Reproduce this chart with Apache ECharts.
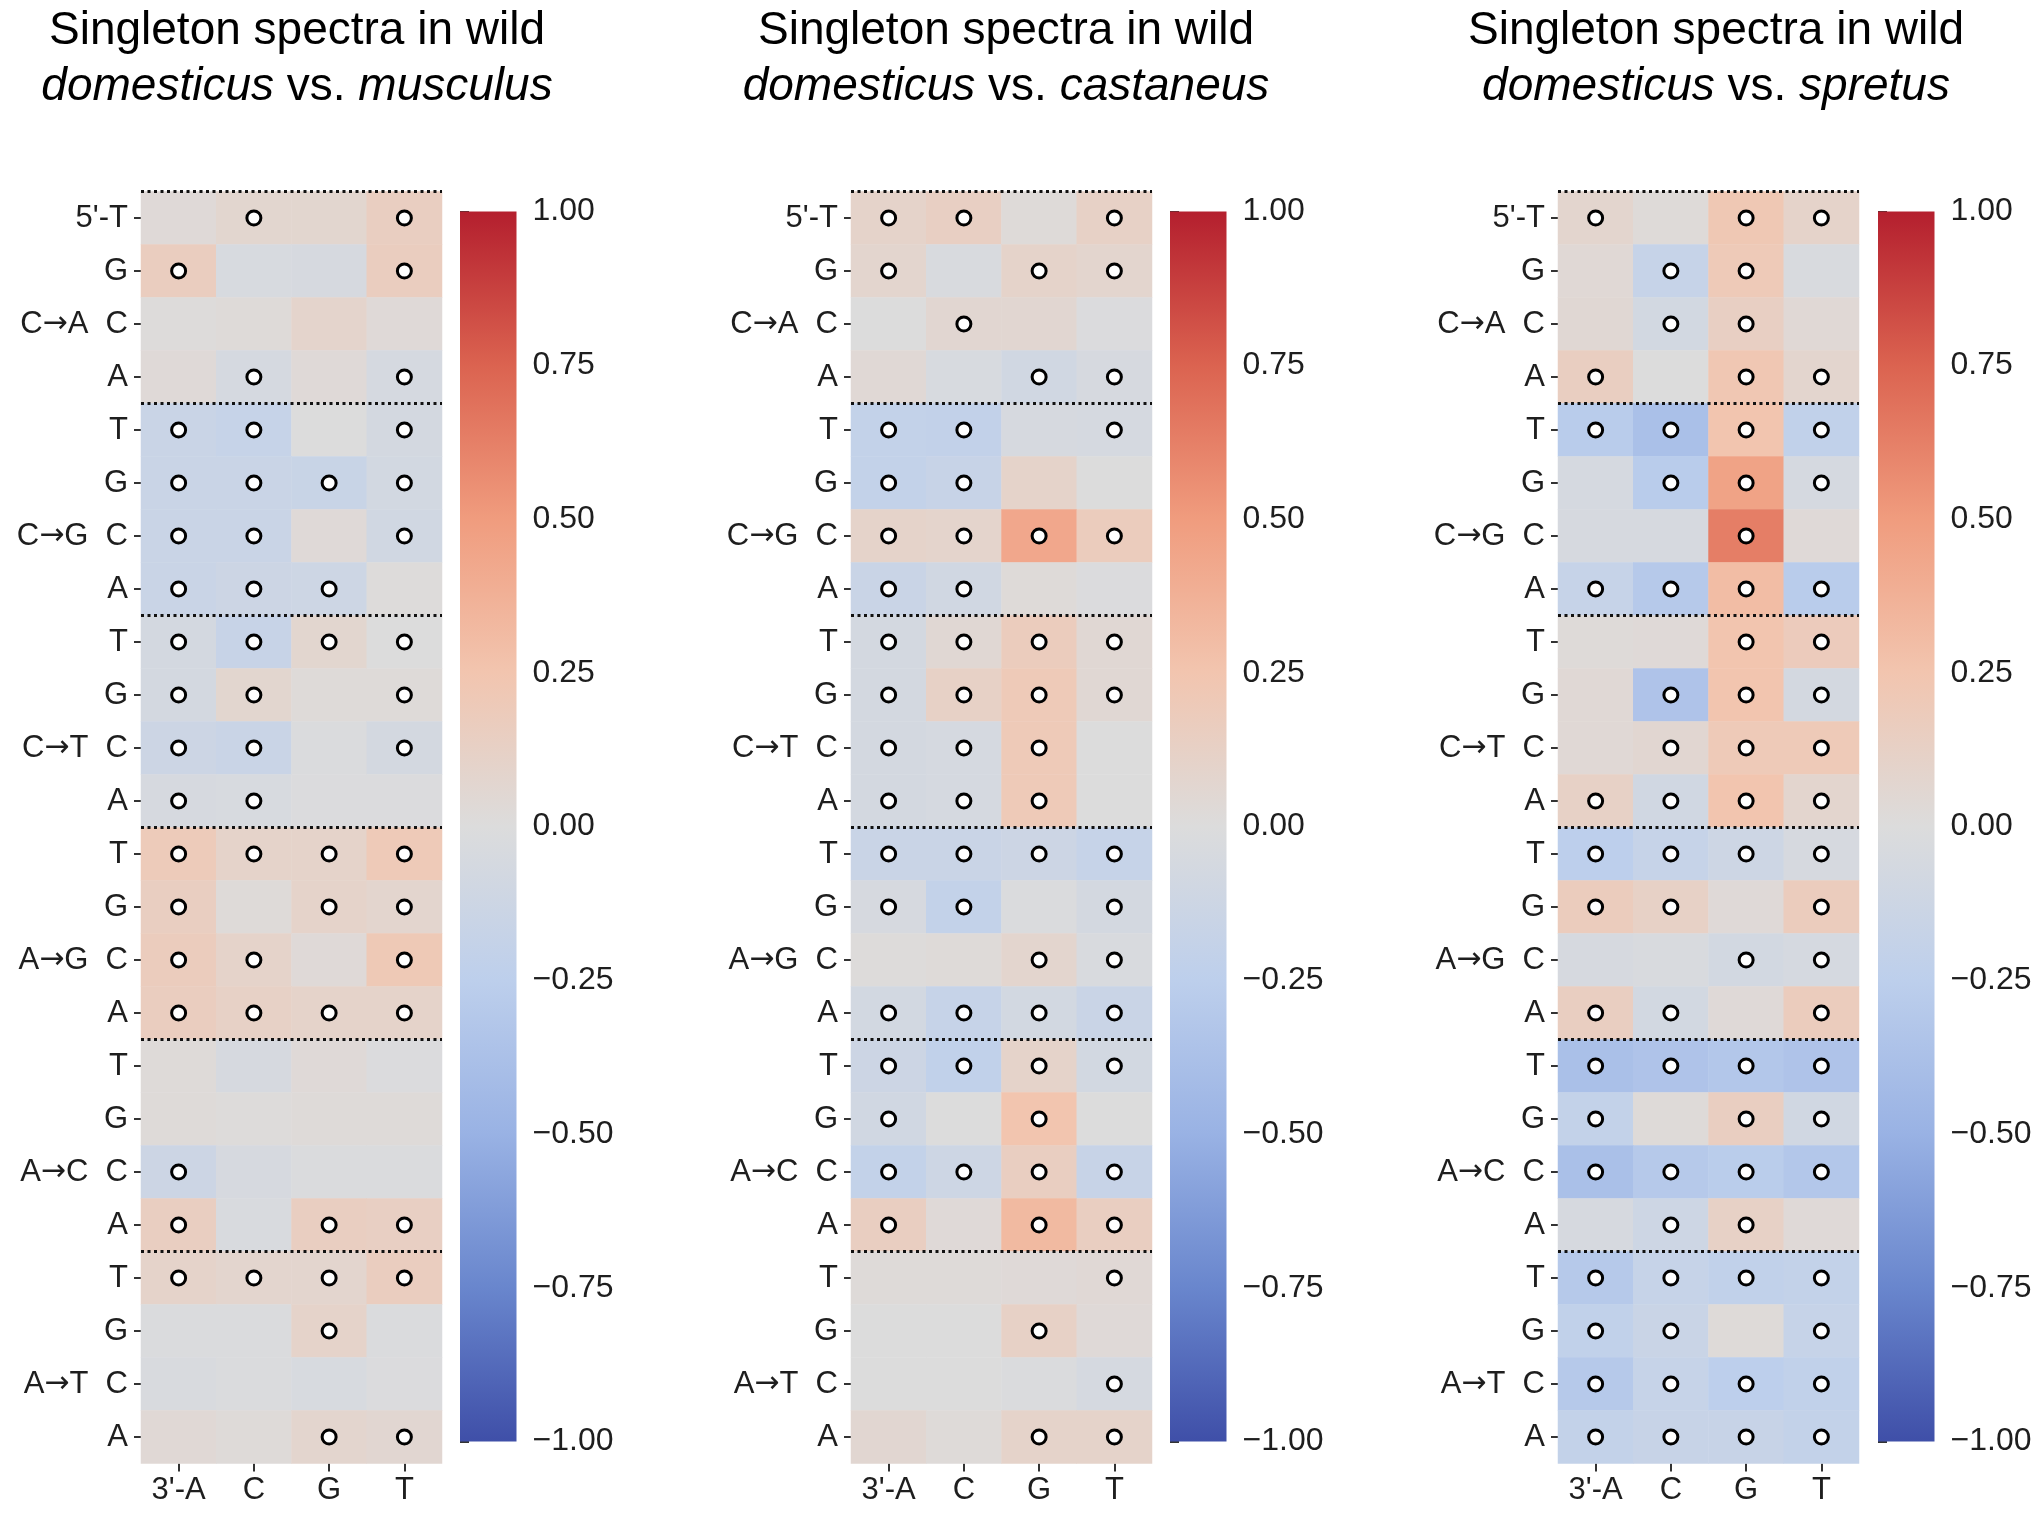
<!DOCTYPE html>
<html>
<head>
<meta charset="utf-8">
<script src="https://cdn.jsdelivr.net/npm/echarts@6/dist/echarts.min.js"></script>
<style>
html,body{margin:0;padding:0;background:#fff;}
#chart{width:2040px;height:1519px;}
</style>
</head>
<body>
<div id="chart"></div>
<script>
// ---------------- data ----------------
const colLabels = ["3'-A", "C", "G", "T"];
const rowLabels = ["5'-T","G","C","A","T","G","C","A","T","G","C","A",
                   "T","G","C","A","T","G","C","A","T","G","C","A"];
const groupLabels = ["C\u2192A","C\u2192G","C\u2192T","A\u2192G","A\u2192C","A\u2192T"];
const groupBoundaries = [0, 4, 8, 12, 16, 20];
const colorTicks = [-1, -0.75, -0.5, -0.25, 0, 0.25, 0.5, 0.75, 1];

const titleLine1 = "Singleton spectra in wild";
const titleSpecies = ["musculus", "castaneus", "spretus"];

const musculusValues = [
  [0.03,0.07,0.07,0.15],[0.16,-0.04,-0.05,0.16],[0.01,0.02,0.09,0.03],[0.03,-0.06,0.03,-0.06],
  [-0.15,-0.18,0.0,-0.07],[-0.15,-0.15,-0.16,-0.08],[-0.15,-0.15,0.03,-0.1],[-0.15,-0.13,-0.12,0.01],
  [-0.07,-0.17,0.07,0.0],[-0.07,0.07,0.02,0.02],[-0.13,-0.15,-0.02,-0.07],[-0.05,-0.04,-0.01,-0.01],
  [0.19,0.1,0.1,0.2],[0.15,0.02,0.1,0.08],[0.17,0.1,0.03,0.21],[0.16,0.12,0.1,0.1],
  [0.02,-0.05,0.03,-0.01],[0.02,0.01,0.02,0.02],[-0.13,-0.05,-0.02,-0.02],[0.15,-0.03,0.15,0.14],
  [0.1,0.08,0.08,0.16],[-0.02,-0.02,0.1,-0.02],[-0.03,-0.02,-0.04,-0.01],[0.04,0.02,0.08,0.06]
];
const musculusSig = [
  [0,1,0,1],[1,0,0,1],[0,0,0,0],[0,1,0,1],
  [1,1,0,1],[1,1,1,1],[1,1,0,1],[1,1,1,0],
  [1,1,1,1],[1,1,0,1],[1,1,0,1],[1,1,0,0],
  [1,1,1,1],[1,0,1,1],[1,1,0,1],[1,1,1,1],
  [0,0,0,0],[0,0,0,0],[1,0,0,0],[1,0,1,1],
  [1,1,1,1],[0,0,1,0],[0,0,0,0],[0,0,1,1]
];

const castaneusValues = [
  [0.1,0.14,0.02,0.12],[0.08,-0.03,0.1,0.08],[0.0,0.06,0.06,-0.01],[0.04,-0.04,-0.1,-0.05],
  [-0.2,-0.21,-0.05,-0.06],[-0.2,-0.17,0.1,0.0],[0.1,0.09,0.43,0.17],[-0.15,-0.1,0.02,-0.01],
  [-0.07,0.05,0.17,0.05],[-0.07,0.12,0.2,0.05],[-0.07,-0.06,0.2,0.0],[-0.07,-0.06,0.2,0.0],
  [-0.15,-0.15,-0.13,-0.18],[-0.05,-0.2,-0.02,-0.07],[0.01,0.02,0.08,-0.03],[-0.08,-0.18,-0.08,-0.15],
  [-0.13,-0.22,0.1,-0.08],[-0.1,0.0,0.25,0.0],[-0.2,-0.12,0.15,-0.17],[0.15,0.03,0.32,0.15],
  [0.02,0.02,0.03,0.04],[0.0,0.0,0.12,0.03],[0.0,0.0,-0.02,-0.06],[0.06,0.02,0.1,0.1]
];
const castaneusSig = [
  [1,1,0,1],[1,0,1,1],[0,1,0,0],[0,0,1,1],
  [1,1,0,1],[1,1,0,0],[1,1,1,1],[1,1,0,0],
  [1,1,1,1],[1,1,1,1],[1,1,1,0],[1,1,1,0],
  [1,1,1,1],[1,1,0,1],[0,0,1,1],[1,1,1,1],
  [1,1,1,1],[1,0,1,0],[1,1,1,1],[1,0,1,1],
  [0,0,0,1],[0,0,1,0],[0,0,0,1],[0,0,1,1]
];

const spretusValues = [
  [0.08,0.02,0.22,0.1],[0.04,-0.18,0.2,-0.03],[0.05,-0.08,0.14,0.04],[0.15,0.0,0.23,0.08],
  [-0.28,-0.38,0.25,-0.22],[-0.06,-0.28,0.46,-0.06],[-0.05,-0.05,0.63,0.03],[-0.18,-0.3,0.3,-0.28],
  [0.02,0.03,0.25,0.18],[0.04,-0.35,0.25,-0.07],[0.04,0.06,0.2,0.2],[0.12,-0.1,0.25,0.08],
  [-0.25,-0.18,-0.12,-0.05],[0.17,0.12,0.03,0.17],[-0.05,-0.03,-0.08,-0.06],[0.15,-0.08,0.03,0.17],
  [-0.38,-0.35,-0.32,-0.35],[-0.2,0.02,0.15,-0.1],[-0.38,-0.3,-0.27,-0.32],[-0.05,-0.12,0.12,0.03],
  [-0.3,-0.18,-0.22,-0.2],[-0.22,-0.15,0.02,-0.18],[-0.3,-0.18,-0.25,-0.22],[-0.2,-0.17,-0.17,-0.2]
];
const spretusSig = [
  [1,0,1,1],[0,1,1,0],[0,1,1,0],[1,0,1,1],
  [1,1,1,1],[0,1,1,1],[0,0,1,0],[1,1,1,1],
  [0,0,1,1],[0,1,1,1],[0,1,1,1],[1,1,1,1],
  [1,1,1,1],[1,1,0,1],[0,0,1,1],[1,1,0,1],
  [1,1,1,1],[1,0,1,1],[1,1,1,1],[0,1,1,0],
  [1,1,1,1],[1,1,0,1],[1,1,1,1],[1,1,1,1]
];

// coolwarm-like colormap stops (value -1 .. 1), matched to the reference's rendering
const coolwarm = ['#3f4fa8','#6986cd','#99b2e4','#bdcfec','#dcdcdc','#f2c5af','#f09c7e','#db6350','#b41f2e'];

// ---------------- layout ----------------
const FONT = "'Liberation Sans', Arial, sans-serif";
const TXT = '#1e1e1e';
const panels = [
  {vals: musculusValues, sig: musculusSig, heatLeft: 141, cbLeft: 460, titleX: 297},
  {vals: castaneusValues, sig: castaneusSig, heatLeft: 851, cbLeft: 1170, titleX: 1006},
  {vals: spretusValues, sig: spretusSig, heatLeft: 1558, cbLeft: 1878, titleX: 1716}
];
const HEAT_TOP = 191.5, HEAT_W = 301, HEAT_H = 1272;
const CB_TOP = 211.5, CB_W = 56.5, CB_H = 1230;

const grids = [], xAxes = [], yAxes = [], series = [], titles = [];
const heatSeriesIdx = [];

function groupLabelRich(g) {
  const parts = g.split('\u2192');
  return '{g|' + parts[0] + '}{r|\u2192}{g|' + parts[1] + '}';
}

panels.forEach((p, i) => {
  titles.push({
    text: '{n|' + titleLine1 + '}\n{i|domesticus}{n| vs. }{i|' + titleSpecies[i] + '}',
    left: p.titleX, top: 3, textAlign: 'center', padding: 0,
    textStyle: {
      fontWeight: 'normal',
      rich: {
        n: {fontFamily: FONT, fontSize: 46, color: '#000', lineHeight: 56, fontWeight: 'normal'},
        i: {fontFamily: FONT, fontSize: 46, color: '#000', lineHeight: 56, fontWeight: 'normal', fontStyle: 'italic'}
      }
    }
  });
  grids.push({left: p.heatLeft, top: HEAT_TOP, width: HEAT_W, height: HEAT_H, containLabel: false});
  grids.push({left: p.cbLeft, top: CB_TOP, width: CB_W, height: CB_H, containLabel: false});

  xAxes.push({
    type: 'category', gridIndex: 2*i, data: colLabels, position: 'bottom',
    axisLine: {show: false},
    axisTick: {show: true, alignWithLabel: true, length: 8, lineStyle: {color: '#333', width: 2}},
    axisLabel: {fontFamily: FONT, fontSize: 31, color: TXT, margin: 11, interval: 0},
    splitLine: {show: false}
  });
  xAxes.push({type: 'value', gridIndex: 2*i+1, min: 0, max: 1, show: false});

  yAxes.push({
    type: 'category', gridIndex: 2*i, data: rowLabels, inverse: true,
    axisLine: {show: false},
    axisTick: {show: true, alignWithLabel: true, length: 7, lineStyle: {color: '#333', width: 2}},
    axisLabel: {
      fontFamily: FONT, fontSize: 31, color: TXT, margin: 13, interval: 0,
      formatter: (v, idx) => (idx % 4 === 2
        ? groupLabelRich(groupLabels[Math.floor(idx / 4)]) + '{b|  ' + v + '}'
        : '{b|' + v + '}'),
      rich: {
        b: {fontFamily: FONT, fontSize: 31, color: TXT},
        g: {fontFamily: FONT, fontSize: 31, color: TXT},
        r: {fontFamily: "'DejaVu Sans', sans-serif", fontSize: 30, color: TXT}
      }
    },
    splitLine: {show: false}
  });
  yAxes.push({
    type: 'value', gridIndex: 2*i+1, min: -1, max: 1, interval: 0.25, position: 'right',
    axisLine: {show: false},
    axisTick: {show: true, length: 9, lineStyle: {color: '#333', width: 2}},
    axisLabel: {
      fontFamily: FONT, fontSize: 32, color: TXT, margin: 16,
      formatter: v => (v < 0 ? '\u2212' + Math.abs(v).toFixed(2) : v.toFixed(2))
    },
    splitLine: {show: false}
  });

  // heatmap cells
  const heatData = [];
  p.vals.forEach((row, r) => row.forEach((v, c) => heatData.push([c, r, v])));
  heatSeriesIdx.push(series.length);
  series.push({
    type: 'heatmap', xAxisIndex: 2*i, yAxisIndex: 2*i, data: heatData,
    itemStyle: {borderWidth: 0}, emphasis: {disabled: true}, progressive: 0
  });

  // dotted group separators
  series.push({
    type: 'custom', xAxisIndex: 2*i, yAxisIndex: 2*i, z: 5, silent: true,
    data: groupBoundaries.map(b => [0, b]),
    encode: {x: 0, y: 1},
    renderItem: (params, api) => {
      const cs = params.coordSys;
      const rowH = api.size([0, 1])[1];
      const y = api.coord([0, api.value(1)])[1] - rowH / 2;
      return {
        type: 'line',
        shape: {x1: cs.x, y1: y, x2: cs.x + cs.width, y2: y},
        style: {stroke: '#111', lineWidth: 2.8, lineDash: [3, 3.5]}
      };
    }
  });

  // significance circles
  const sigData = [];
  p.sig.forEach((row, r) => row.forEach((s, c) => { if (s) sigData.push([c, r]); }));
  series.push({
    type: 'scatter', xAxisIndex: 2*i, yAxisIndex: 2*i, z: 6, silent: true,
    data: sigData, symbol: 'circle', symbolSize: 14,
    itemStyle: {color: '#ffffff', borderColor: '#000000', borderWidth: 3, opacity: 1}
  });

  // colorbar
  series.push({
    type: 'custom', xAxisIndex: 2*i+1, yAxisIndex: 2*i+1, silent: true,
    data: [[0, 0]],
    renderItem: (params, api) => {
      const cs = params.coordSys;
      return {
        type: 'rect',
        shape: {x: cs.x, y: cs.y, width: cs.width, height: cs.height},
        style: {
          fill: {
            type: 'linear', x: 0, y: 1, x2: 0, y2: 0,
            colorStops: coolwarm.map((c, k) => ({offset: k / (coolwarm.length - 1), color: c}))
          }
        }
      };
    }
  });
});

const chart = echarts.init(document.getElementById('chart'), null, {renderer: 'canvas'});
chart.setOption({
  backgroundColor: '#ffffff',
  animation: false,
  title: titles,
  grid: grids,
  xAxis: xAxes,
  yAxis: yAxes,
  visualMap: [{
    type: 'continuous', show: false, min: -1, max: 1,
    seriesIndex: heatSeriesIdx, dimension: 2,
    inRange: {color: coolwarm}
  }],
  series: series
});
</script>
</body>
</html>
